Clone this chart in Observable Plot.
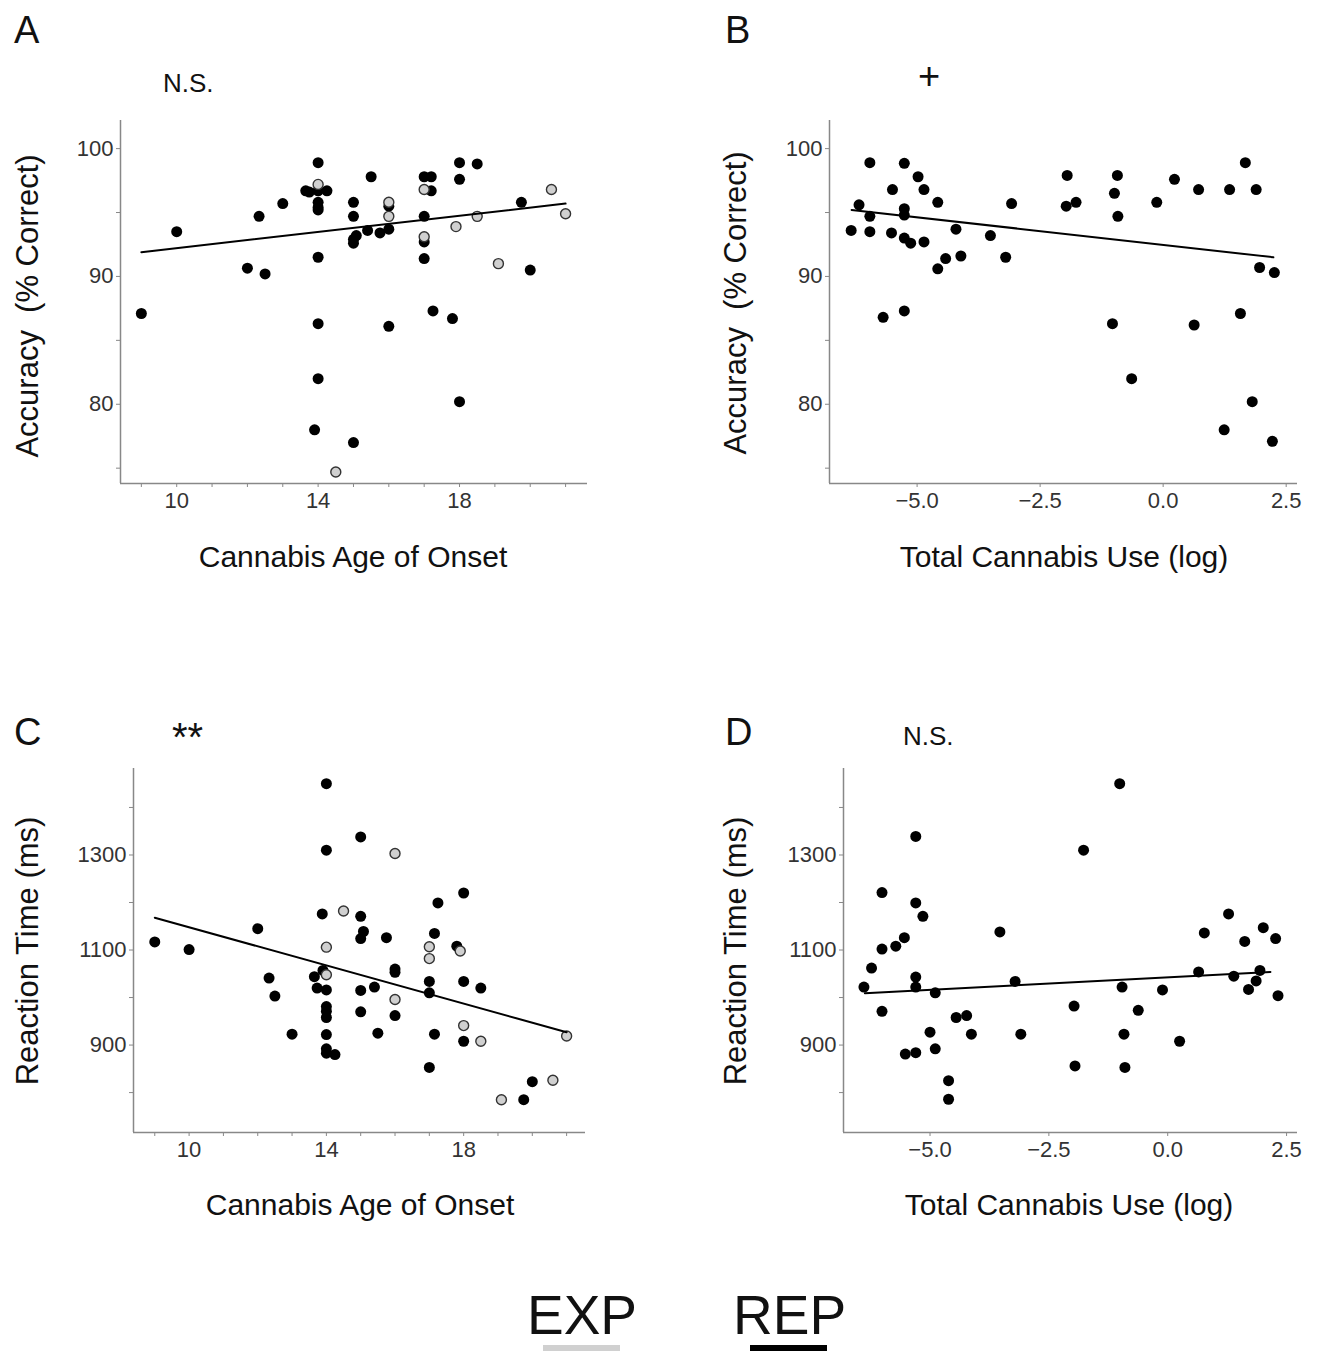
<!DOCTYPE html>
<html><head><meta charset="utf-8">
<script src="https://cdn.jsdelivr.net/npm/d3@7"></script>
<script src="https://cdn.jsdelivr.net/npm/@observablehq/plot@0.6"></script>
<style>
body{margin:0;background:#fff;}
#fig{position:relative;width:1321px;height:1351px;overflow:hidden;font-family:"Liberation Sans",Arial,Helvetica,sans-serif;color:#111;background:#fff;}
.t{position:absolute;line-height:1;white-space:pre;}
.p{position:absolute;}
</style></head><body><div id="fig"></div>
<script>
// ---------- data ----------
// Panel A: Accuracy vs Cannabis Age of Onset
const accOnsetREP = [[9,87.1],[10,93.5],[12,90.65],[12.5,90.2],[12.33,94.7],[13,95.7],[13.65,96.7],[13.75,96.6],
  [14,98.9],[14,96.7],[14.25,96.7],[14,95.8],[14,95.4],[14,95.2],[14,91.5],[14,86.3],[14,82.0],[13.9,78.0],
  [15,95.8],[15,94.7],[15,92.9],[15,92.6],[15.08,93.2],[15,77.0],[15.5,97.8],[15.4,93.6],[15.75,93.4],
  [16,93.7],[16,95.5],[16,86.1],[17,97.8],[17.2,97.8],[17,94.7],[17.2,96.7],[17,92.7],[17,91.4],[17.25,87.3],
  [17.8,86.7],[18,98.9],[18,97.6],[18,80.2],[18.5,98.8],[19.75,95.8],[20,90.5]];
const accOnsetEXP = [[14,97.2],[16,95.8],[16,94.7],[17,96.8],[17,93.1],[17.9,93.9],[18.5,94.7],[19.1,91.0],[20.6,96.8],[21,94.9],[14.5,74.7]];
const accOnsetFit = [[9,91.9],[21,95.7]];

// Panel B: Accuracy vs Total Cannabis Use (log)
const accUseREP = [[-6.34,93.6],[-6.18,95.6],[-5.96,98.9],[-5.96,94.7],[-5.96,93.5],[-5.69,86.8],[-5.5,96.8],[-5.52,93.4],
  [-5.26,98.85],[-5.26,95.3],[-5.26,94.8],[-5.26,93.0],[-5.26,87.3],[-5.13,92.6],[-4.98,97.8],[-4.86,96.8],[-4.86,92.7],
  [-4.58,95.8],[-4.58,90.6],[-4.42,91.4],[-4.21,93.7],[-4.11,91.6],[-3.51,93.2],[-3.2,91.5],[-3.08,95.7],
  [-1.97,95.5],[-1.95,97.9],[-1.77,95.8],[-1.03,86.3],[-0.99,96.5],[-0.93,97.9],[-0.92,94.7],[-0.64,82.0],
  [-0.13,95.8],[0.23,97.6],[0.63,86.2],[0.72,96.8],[1.24,78.0],[1.35,96.8],[1.57,87.1],[1.67,98.9],[1.81,80.2],
  [1.89,96.8],[1.96,90.7],[2.22,77.1],[2.26,90.3]];
const accUseFit = [[-6.33,95.2],[2.24,91.5]];

// Panel C: Reaction Time vs Cannabis Age of Onset
const rtOnsetREP = [[9,1117],[10,1101],[12,1145],[12.33,1041],[12.5,1003],[13,923],[13.65,1044],[13.73,1020],[13.88,1176],
  [13.9,1057],[14,1450],[14,1310],[14,1016],[14,981],[14,971],[14,958],[14,922],[14,892],[14,883],[14.25,880],
  [15,1338],[15,1171],[15.08,1139],[15,1124],[15,1015],[15,970],[15.4,1022],[15.5,925],[15.75,1126],
  [16,1060],[16,1053],[16,962],[17,1034],[17,1010],[17,853],[17.15,923],[17.15,1135],[17.25,1199],
  [17.8,1108],[18,1220],[18,1034],[18,908],[18.5,1020],[20,823],[19.75,785]];
const rtOnsetEXP = [[14,1106],[14,1048],[14.5,1182],[16,1303],[16,996],[17,1107],[17,1082],[17.9,1098],[18,941],[18.5,908],[19.1,785],[20.6,826],[21,919]];
const rtOnsetFit = [[9,1168],[21,927]];

// Panel D: Reaction Time vs Total Cannabis Use (log)
const rtUseREP = [[-6.39,1022],[-6.23,1062],[-6.01,1221],[-6.01,1102],[-6.01,971],[-5.72,1108],[-5.54,1126],[-5.52,881],
  [-5.3,1339],[-5.3,1199],[-5.3,1043],[-5.3,1022],[-5.3,884],[-5.15,1171],[-5.0,927],[-4.89,1010],[-4.89,892],
  [-4.61,825],[-4.61,786],[-4.45,958],[-4.23,962],[-4.13,923],[-3.53,1138],[-3.21,1034],[-3.09,923],
  [-1.97,982],[-1.95,856],[-1.77,1310],[-1.01,1450],[-0.96,1022],[-0.92,923],[-0.9,853],[-0.62,973],
  [-0.11,1016],[0.25,908],[0.65,1054],[0.77,1136],[1.28,1176],[1.39,1045],[1.62,1118],[1.7,1017],
  [1.86,1035],[1.94,1057],[2.01,1147],[2.27,1124],[2.32,1004]];
const rtUseFit = [[-6.37,1009],[2.16,1054]];

// ticks
const onsetTicks = [9,10,11,12,13,14,15,16,17,18,19,20,21];
const onsetTickLabels = [10,14,18];
const useTicks = [-5,-2.5,0,2.5];
const useTickLabels = [-5,-2.5,0,2.5];
const accTicks = [75,80,85,90,95,100];
const accTickLabels = [80,90,100];
const rtTicks = [800,900,1000,1100,1200,1300,1400];
const rtTickLabels = [900,1100,1300];

const groups = ["EXP","REP"];
const groupColors = ["#d0d0d0","#000000"];

// ---------- drawing ----------
const fig = document.getElementById("fig");
const FONT = '"Liberation Sans", Arial, Helvetica, sans-serif';

function panel(o) {
  const X = d => d[0], Y = d => d[1];
  const marks = [
    Plot.axisX({ticks: o.xTicks, tickSize: 4, tickPadding: 5, stroke: "#888", fill: "#333", label: null,
      tickFormat: d => o.xLabels.includes(d) ? o.xFmt(d) : ""}),
    Plot.axisY({ticks: o.yTicks, tickSize: 4, tickPadding: 3, stroke: "#888", fill: "#333", label: null,
      tickFormat: d => o.yLabels.includes(d) ? String(d) : ""}),
    Plot.ruleX([o.xDomain[0]], {stroke: "#888", strokeWidth: 1.5}),
    Plot.ruleY([o.yDomain[0]], {stroke: "#888", strokeWidth: 1.5}),
    Plot.dot(o.rep, {x: X, y: Y, r: 5.5, fill: groupColors[1]}),
  ];
  if (o.exp) marks.push(Plot.dot(o.exp, {x: X, y: Y, r: 5, fill: groupColors[0], stroke: "#333", strokeWidth: 1.4}));
  marks.push(Plot.line(o.fit, {x: X, y: Y, stroke: "#000", strokeWidth: 2}));
  const svg = Plot.plot({
    width: o.width, height: o.height,
    marginLeft: o.ml, marginRight: o.mr, marginTop: o.mt, marginBottom: o.mb,
    x: {domain: o.xDomain}, y: {domain: o.yDomain},
    style: {fontFamily: FONT, fontSize: "22px", background: "transparent", overflow: "visible"},
    marks
  });
  const wrap = document.createElement("div");
  wrap.className = "p";
  wrap.style.left = o.left + "px"; wrap.style.top = o.top + "px";
  wrap.appendChild(svg);
  fig.appendChild(wrap);
}

function txt(s, x, baseline, size, anchor = "start", extra = {}) {
  const d = document.createElement("div");
  d.className = "t";
  d.textContent = s;
  d.style.fontSize = size + "px";
  d.style.left = x + "px";
  d.style.top = (baseline - 0.8465 * size) + "px";
  if (anchor === "middle") d.style.transform = "translateX(-50%)";
  Object.assign(d.style, extra);
  fig.appendChild(d);
}
function vtxt(s, cx, cy, size) {
  const d = document.createElement("div");
  d.className = "t";
  d.textContent = s;
  d.style.fontSize = size + "px";
  d.style.left = cx + "px";
  d.style.top = cy + "px";
  d.style.transform = "translate(-50%,-50%) rotate(-90deg)";
  fig.appendChild(d);
}

const intFmt = d => String(d);
const useFmt = d3.format(".1f");

panel({left: 0, top: 100, width: 640, height: 500, ml: 120, mr: 53, mt: 20, mb: 117,
  xDomain: [8.41, 21.62], yDomain: [73.8, 102.2], xTicks: onsetTicks, xLabels: onsetTickLabels, xFmt: intFmt,
  yTicks: accTicks, yLabels: accTickLabels, rep: accOnsetREP, exp: accOnsetEXP, fit: accOnsetFit});
panel({left: 700, top: 100, width: 620, height: 500, ml: 129, mr: 23, mt: 20, mb: 117,
  xDomain: [-6.78, 2.73], yDomain: [73.8, 102.2], xTicks: useTicks, xLabels: useTickLabels, xFmt: useFmt,
  yTicks: accTicks, yLabels: accTickLabels, rep: accUseREP, exp: null, fit: accUseFit});
panel({left: 0, top: 700, width: 640, height: 560, ml: 133, mr: 55, mt: 68, mb: 128,
  xDomain: [8.38, 21.55], yDomain: [716, 1482], xTicks: onsetTicks, xLabels: onsetTickLabels, xFmt: intFmt,
  yTicks: rtTicks, yLabels: rtTickLabels, rep: rtOnsetREP, exp: rtOnsetEXP, fit: rtOnsetFit});
panel({left: 700, top: 700, width: 620, height: 560, ml: 143, mr: 23, mt: 68, mb: 128,
  xDomain: [-6.82, 2.73], yDomain: [716, 1482], xTicks: useTicks, xLabels: useTickLabels, xFmt: useFmt,
  yTicks: rtTicks, yLabels: rtTickLabels, rep: rtUseREP, exp: null, fit: rtUseFit});

// axis titles
txt("Cannabis Age of Onset", 353, 567, 30, "middle");
txt("Total Cannabis Use (log)", 1064, 567, 30, "middle");
txt("Cannabis Age of Onset", 360, 1215, 30, "middle");
txt("Total Cannabis Use (log)", 1069, 1215, 30, "middle");
vtxt("Accuracy\u00a0\u00a0(% Correct)", 27, 306, 31);
vtxt("Accuracy\u00a0\u00a0(% Correct)", 735, 303, 31);
vtxt("Reaction Time (ms)", 27, 951, 31);
vtxt("Reaction Time (ms)", 735, 951, 31);

// panel letters and significance
txt("A", 14, 43, 38); txt("B", 725, 43, 38); txt("C", 14, 745, 38); txt("D", 725, 745, 38);
txt("N.S.", 163, 92, 26);
txt("+", 929, 89, 38, "middle");
txt("**", 172, 751, 40);
txt("N.S.", 903, 745, 26);

// legend
txt(groups[0], 527, 1335, 55);
txt(groups[1], 733, 1335, 55);
[[543, groupColors[0]], [750, groupColors[1]]].forEach(([x, c]) => {
  const b = document.createElement("div");
  b.style.cssText = `position:absolute;left:${x}px;top:1345px;width:77px;height:10px;background:${c}`;
  fig.appendChild(b);
});
</script></body></html>
